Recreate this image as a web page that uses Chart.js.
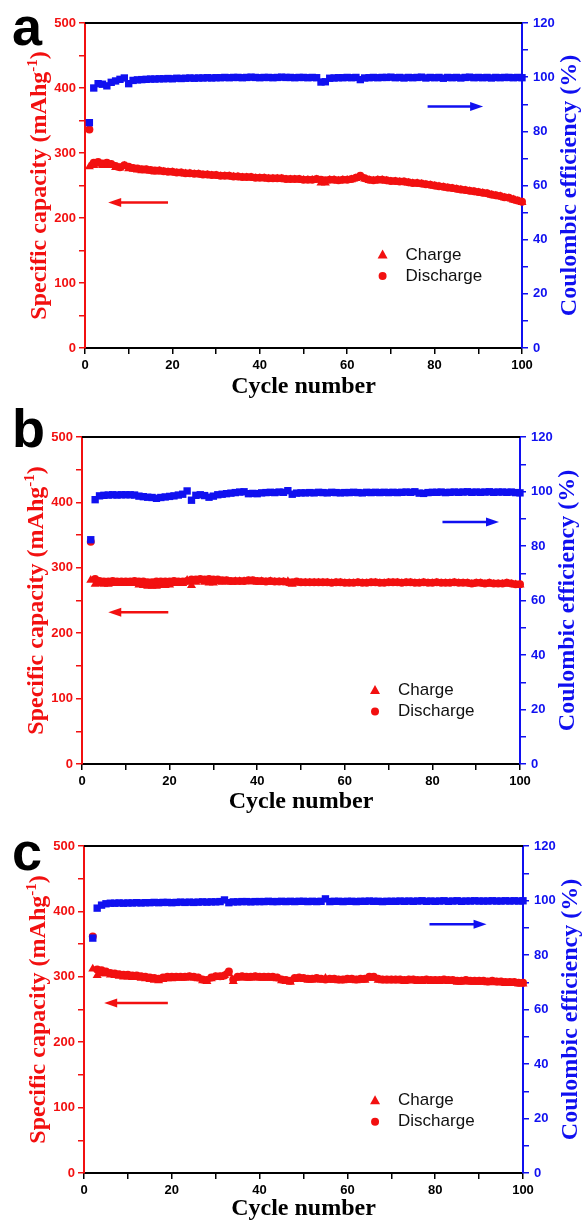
<!DOCTYPE html>
<html>
<head>
<meta charset="utf-8">
<script src="https://cdn.jsdelivr.net/npm/chart.js@4.4.0/dist/chart.umd.min.js"></script>
<style>
  html, body { margin: 0; padding: 0; background: #fff; }
  body { width: 582px; height: 1221px; position: relative; overflow: hidden; }
  .panel { position: absolute; left: 0; width: 582px; }
</style>
</head>
<body>
<div class="panel" style="top:0;height:405px"><canvas id="chartA"></canvas></div>
<div class="panel" style="top:405px;height:410px"><canvas id="chartB"></canvas></div>
<div class="panel" style="top:815px;height:406px"><canvas id="chartC"></canvas></div>
<script>
// cycle numbers start here for each panel, one value per cycle after that
const firstCycleA = 1
const firstCycleB = 2
const firstCycleC = 2

// panel a  (mAh/g and %)
const dischargeA = [336, 285, 286, 284, 285, 283, 280, 278, 281, 279,
  277, 276, 275, 275, 274, 273, 273, 272, 271, 271,
  270, 270, 269, 269, 268, 268, 267, 267, 266, 266,
  265, 265, 265, 264, 264, 263, 263, 263, 262, 262,
  262, 261, 261, 261, 261, 260, 260, 260, 260, 259,
  259, 259, 260, 259, 258, 259, 259, 258, 259, 259,
  260, 262, 265, 261, 259, 258, 259, 259, 258, 257,
  257, 256, 256, 255, 254, 254, 253, 252, 251, 250,
  249, 248, 247, 246, 245, 244, 243, 242, 241, 240,
  239, 238, 236, 235, 234, 232, 231, 229, 227, 225]
const chargeA = [279, 281, 283, 281, 281, 281, 278, 277, 280, 276,
  275, 274, 273, 273, 272, 271, 272, 271, 270, 270,
  269, 269, 268, 268, 267, 267, 266, 266, 265, 265,
  264, 264, 264, 263, 263, 262, 262, 262, 261, 261,
  261, 260, 260, 260, 260, 259, 259, 259, 259, 258,
  258, 258, 259, 254, 254, 258, 258, 257, 258, 258,
  259, 261, 262, 260, 258, 257, 258, 258, 257, 256,
  256, 255, 255, 254, 253, 253, 252, 251, 250, 249,
  248, 247, 246, 245, 244, 243, 242, 241, 240, 239,
  238, 237, 235, 234, 233, 231, 230, 228, 226, 224]
const ceA = [83.2, 96.0, 97.6, 97.4, 96.8, 98.1, 98.6, 99.2, 99.7, 97.6,
  98.8, 99.0, 99.1, 99.2, 99.3, 99.3, 99.4, 99.4, 99.5, 99.4,
  99.6, 99.5, 99.6, 99.7, 99.6, 99.7, 99.7, 99.8, 99.7, 99.8,
  99.8, 99.9, 99.8, 99.9, 99.9, 99.8, 99.9, 100.0, 99.9, 99.8,
  99.9, 99.9, 99.8, 99.9, 100.0, 99.9, 99.9, 99.8, 99.9, 99.9,
  99.8, 99.9, 99.8, 98.2, 98.3, 99.6, 99.7, 99.8, 99.8, 99.9,
  99.8, 99.9, 99.1, 99.7, 99.8, 99.9, 99.8, 99.9, 99.9, 100.0,
  99.8, 99.9, 99.7, 99.9, 99.8, 99.9, 100.0, 99.7, 99.9, 99.8,
  99.9, 99.6, 99.9, 99.8, 99.9, 99.7, 99.9, 100.0, 99.8, 99.9,
  99.8, 99.9, 99.7, 99.9, 99.8, 99.9, 99.9, 99.8, 99.9, 99.8]

// panel b
const dischargeB = [340, 283, 280, 279, 279, 280, 279, 279, 279,
  279, 280, 279, 279, 278, 278, 279, 279, 279, 279,
  280, 279, 279, 280, 282, 282, 283, 282, 283, 282,
  282, 281, 281, 280, 280, 280, 280, 281, 281, 280,
  280, 279, 280, 279, 279, 279, 278, 278, 279, 278,
  278, 278, 278, 278, 278, 278, 277, 278, 278, 277,
  277, 277, 278, 277, 277, 278, 278, 277, 277, 278,
  278, 278, 277, 278, 278, 277, 277, 278, 277, 277,
  278, 277, 277, 277, 278, 277, 277, 277, 276, 277,
  277, 276, 277, 276, 276, 276, 277, 276, 275, 275]
const chargeB = [281, 275, 276, 275, 275, 276, 276, 276, 276,
  276, 276, 274, 273, 272, 272, 272, 273, 273, 274,
  276, 276, 276, 281, 273, 278, 280, 278, 277, 277,
  279, 278, 279, 278, 279, 279, 279, 279, 279, 278,
  279, 278, 279, 278, 278, 278, 279, 275, 277, 277,
  277, 277, 277, 277, 277, 277, 276, 277, 277, 276,
  276, 276, 277, 276, 276, 277, 277, 276, 276, 277,
  277, 277, 276, 277, 277, 276, 276, 277, 276, 276,
  277, 276, 276, 276, 277, 276, 276, 276, 275, 276,
  276, 275, 276, 275, 275, 275, 276, 275, 274, 274]
const ceB = [82.3, 97.0, 98.4, 98.6, 98.7, 98.8, 98.7, 98.8, 98.8,
  98.8, 98.7, 98.3, 98.1, 97.9, 97.8, 97.5, 97.8, 98.0, 98.2,
  98.4, 98.7, 99.0, 100.2, 96.8, 98.6, 98.8, 98.5, 97.9, 98.3,
  98.8, 99.0, 99.2, 99.4, 99.6, 99.8, 99.9, 99.2, 99.3, 99.2,
  99.5, 99.6, 99.7, 99.6, 99.8, 99.7, 100.3, 99.0, 99.4, 99.5,
  99.5, 99.6, 99.5, 99.7, 99.6, 99.5, 99.7, 99.6, 99.5, 99.6,
  99.6, 99.7, 99.6, 99.5, 99.7, 99.6, 99.7, 99.6, 99.7, 99.6,
  99.7, 99.6, 99.7, 99.8, 99.7, 99.9, 99.4, 99.3, 99.6, 99.7,
  99.7, 99.8, 99.6, 99.7, 99.8, 99.7, 99.8, 99.9, 99.7, 99.8,
  99.7, 99.8, 99.9, 99.7, 99.8, 99.8, 99.7, 99.8, 99.6, 99.5]

// panel c
const dischargeC = [361.5, 311, 310, 308, 306, 305, 304, 303, 303,
  302, 302, 301, 300, 299, 298, 297, 299, 300, 300,
  300, 300, 300, 301, 300, 299, 296, 295, 299, 301,
  301, 302, 308, 296, 300, 301, 300, 300, 301, 300,
  300, 300, 300, 299, 296, 295, 294, 298, 299, 298,
  297, 297, 298, 297, 296, 297, 297, 296, 296, 297,
  297, 296, 297, 297, 300, 300, 297, 296, 296, 296,
  296, 296, 295, 296, 296, 295, 295, 296, 295, 295,
  295, 296, 295, 295, 294, 294, 295, 294, 294, 294,
  294, 293, 294, 293, 293, 292, 292, 292, 291, 291]
const chargeC = [312, 302, 305, 305, 303, 302, 301, 300, 300,
  299, 299, 298, 297, 296, 295, 294, 296, 297, 297,
  298, 298, 298, 299, 298, 297, 294, 293, 297, 299,
  299, 302, 305, 293, 298, 299, 298, 298, 299, 298,
  298, 298, 298, 297, 294, 293, 292, 296, 297, 296,
  295, 295, 296, 295, 298, 295, 295, 294, 294, 295,
  295, 294, 295, 295, 298, 298, 295, 294, 294, 294,
  294, 294, 293, 294, 294, 293, 293, 294, 293, 293,
  293, 294, 293, 293, 292, 292, 293, 292, 292, 292,
  292, 291, 292, 291, 291, 290, 290, 290, 289, 289]
const ceC = [86.2, 97.2, 98.3, 98.8, 99.0, 99.0, 99.1, 99.0, 99.1,
  99.1, 99.2, 99.1, 99.2, 99.2, 99.3, 99.2, 99.3, 99.3, 99.2,
  99.3, 99.4, 99.3, 99.4, 99.3, 99.4, 99.5, 99.4, 99.5, 99.5,
  99.6, 100.2, 99.2, 99.5, 99.5, 99.6, 99.6, 99.5, 99.6, 99.6,
  99.6, 99.7, 99.6, 99.6, 99.7, 99.6, 99.7, 99.6, 99.7, 99.7,
  99.6, 99.7, 99.6, 99.7, 100.6, 99.6, 99.7, 99.7, 99.6, 99.7,
  99.7, 99.6, 99.7, 99.7, 99.8, 99.7, 99.7, 99.6, 99.7, 99.7,
  99.7, 99.8, 99.7, 99.8, 99.7, 99.8, 99.9, 99.7, 99.8, 99.7,
  99.8, 99.9, 99.7, 99.8, 99.9, 99.7, 99.8, 99.8, 99.9, 99.8,
  99.8, 99.8, 99.9, 99.8, 99.8, 99.9, 99.8, 99.9, 99.8, 99.9]

// axis ranges and ticks
const xRange = [0, 100]
const capRange = [0, 500]
const ceRange = [0, 120]
const seriesNames = ['Charge', 'Discharge', 'Coulombic efficiency']

const RED = '#f21010'
const BLUE = '#1010f0'
const W = 582
const tickFont = { family: '"Liberation Sans", Arial, sans-serif', size: 13, weight: 'bold' }
const titleFont = '"Liberation Serif", "Times New Roman", serif'

const panels = [
  { id: 'chartA', letter: 'a', first: firstCycleA, charge: chargeA, discharge: dischargeA, ce: ceA,
    h: 405, area: { left: 85, right: 522, top: 23, bottom: 348 }, letterAt: [12, 45], xTitleDy: 45,
    legendAt: [0.681, 0.714], leftTitleX: 46, rightTitleX: 576,
    arrows: [{ axis: 'yL', from: 19, to: 5.3, y: 224 }, { axis: 'yR', from: 78.4, to: 91.1, y: 89.2 }] },
  { id: 'chartB', letter: 'b', first: firstCycleB, charge: chargeB, discharge: dischargeB, ce: ceB,
    h: 410, area: { left: 82, right: 520, top: 32, bottom: 359 }, letterAt: [12, 42], xTitleDy: 44,
    legendAt: [0.669, 0.775], leftTitleX: 43, rightTitleX: 574,
    arrows: [{ axis: 'yL', from: 19.7, to: 6, y: 232 }, { axis: 'yR', from: 82.3, to: 95.2, y: 88.8 }] },
  { id: 'chartC', letter: 'c', first: firstCycleC, charge: chargeC, discharge: dischargeC, ce: ceC,
    h: 406, area: { left: 84, right: 523, top: 31, bottom: 358 }, letterAt: [12, 55], xTitleDy: 42,
    legendAt: [0.663, 0.779], leftTitleX: 45, rightTitleX: 577,
    arrows: [{ axis: 'yL', from: 19.1, to: 4.6, y: 260 }, { axis: 'yR', from: 78.7, to: 91.7, y: 91.3 }] }
]

function drawArrow(ctx, x0, x1, y, color) {
  const dir = Math.sign(x1 - x0)
  ctx.strokeStyle = color
  ctx.fillStyle = color
  ctx.lineWidth = 2.5
  ctx.beginPath()
  ctx.moveTo(x0, y)
  ctx.lineTo(x1 - dir * 10, y)
  ctx.stroke()
  ctx.beginPath()
  ctx.moveTo(x1, y)
  ctx.lineTo(x1 - dir * 13, y - 4.5)
  ctx.lineTo(x1 - dir * 13, y + 4.5)
  ctx.closePath()
  ctx.fill()
}

const decor = {
  id: 'decor',
  afterDraw(chart, args, p) {
    const { ctx, chartArea: a, scales } = chart
    ctx.save()

    // black frame line on top
    ctx.strokeStyle = '#000'
    ctx.lineWidth = 2
    ctx.beginPath()
    ctx.moveTo(a.left, a.top)
    ctx.lineTo(a.right, a.top)
    ctx.stroke()

    // panel letter
    ctx.fillStyle = '#000'
    ctx.font = 'bold 54px "Liberation Sans", Arial, sans-serif'
    ctx.textAlign = 'left'
    ctx.textBaseline = 'alphabetic'
    ctx.fillText(p.letter, p.letterAt[0], p.letterAt[1])

    // x title
    ctx.font = 'bold 24px ' + titleFont
    ctx.textAlign = 'center'
    ctx.fillText('Cycle number', (a.left + a.right) / 2, a.bottom + p.xTitleDy)

    // left title with superscript
    const midY = (a.top + a.bottom) / 2
    const big = 'bold 24px ' + titleFont
    const small = 'bold 15px ' + titleFont
    const parts = [['Specific capacity (mAhg', big, 0], ['-1', small, -9], [')', big, 0]]
    let total = 0
    parts.forEach(pt => { ctx.font = pt[1]; total += ctx.measureText(pt[0]).width })
    ctx.save()
    ctx.translate(p.leftTitleX, midY)
    ctx.rotate(-Math.PI / 2)
    ctx.fillStyle = RED
    ctx.textAlign = 'left'
    let cx = -total / 2
    parts.forEach(pt => {
      ctx.font = pt[1]
      ctx.fillText(pt[0], cx, pt[2])
      cx += ctx.measureText(pt[0]).width
    })
    ctx.restore()

    // right title
    ctx.save()
    ctx.translate(p.rightTitleX, midY)
    ctx.rotate(-Math.PI / 2)
    ctx.fillStyle = BLUE
    ctx.font = big
    ctx.textAlign = 'center'
    ctx.fillText('Coulombic efficiency (%)', 0, 0)
    ctx.restore()

    // legend
    const lx = a.left + p.legendAt[0] * (a.right - a.left)
    const ly = a.top + p.legendAt[1] * (a.bottom - a.top)
    ctx.fillStyle = RED
    ctx.beginPath()
    ctx.moveTo(lx, ly - 5.5)
    ctx.lineTo(lx + 5, ly + 3.5)
    ctx.lineTo(lx - 5, ly + 3.5)
    ctx.closePath()
    ctx.fill()
    ctx.beginPath()
    ctx.arc(lx, ly + 21, 4, 0, Math.PI * 2)
    ctx.fill()
    ctx.fillStyle = '#111'
    ctx.font = '17px "Liberation Sans", Arial, sans-serif'
    ctx.textAlign = 'left'
    ctx.textBaseline = 'middle'
    ctx.fillText(seriesNames[0], lx + 23, ly)
    ctx.fillText(seriesNames[1], lx + 23, ly + 21)

    // arrows, placed in data units
    p.arrows.forEach(ar => {
      const ys = scales[ar.axis]
      drawArrow(ctx, scales.x.getPixelForValue(ar.from), scales.x.getPixelForValue(ar.to),
        ys.getPixelForValue(ar.y), ar.axis === 'yL' ? RED : BLUE)
    })
    ctx.restore()
  }
}

function points(first, values) {
  return values.map((v, i) => ({ x: first + i, y: v }))
}

panels.forEach(p => {
  new Chart(document.getElementById(p.id), {
    type: 'scatter',
    data: {
      datasets: [
        { label: seriesNames[2], data: points(p.first, p.ce), yAxisID: 'yR', pointStyle: 'rect',
          pointRadius: 5.2, borderWidth: 0, backgroundColor: BLUE, order: 0, clip: false },
        { label: seriesNames[1], data: points(p.first, p.discharge), yAxisID: 'yL', pointStyle: 'circle',
          pointRadius: 4, borderWidth: 0, backgroundColor: RED, order: 1, clip: false },
        { label: seriesNames[0], data: points(p.first, p.charge), yAxisID: 'yL', pointStyle: 'triangle',
          pointRadius: 5.2, borderWidth: 0, backgroundColor: RED, order: 2, clip: false }
      ]
    },
    options: {
      responsive: true,
      maintainAspectRatio: false,
      animation: false,
      events: [],
      layout: { padding: { top: p.area.top, left: 0, right: 0, bottom: 0 } },
      plugins: { legend: { display: false }, tooltip: { enabled: false }, decor: p },
      scales: {
        x: {
          type: 'linear', position: 'bottom', min: xRange[0], max: xRange[1],
          ticks: { stepSize: 10, autoSkip: false, maxRotation: 0, color: '#000', font: tickFont, padding: 4,
            callback: v => (v % 20 === 0 ? v : '') },
          grid: { drawOnChartArea: false, tickLength: 6, color: '#000', lineWidth: 1.5 },
          border: { color: '#000', width: 2 },
          afterFit: s => { s.height = p.h - p.area.bottom }
        },
        yL: {
          position: 'left', min: capRange[0], max: capRange[1],
          ticks: { stepSize: 50, autoSkip: false, color: RED, font: tickFont, padding: 3,
            callback: v => (v % 100 === 0 ? v : '') },
          grid: { drawOnChartArea: false, tickLength: 6, color: RED, lineWidth: 1.5 },
          border: { color: RED, width: 2 },
          afterFit: s => { s.width = p.area.left }
        },
        yR: {
          position: 'right', min: ceRange[0], max: ceRange[1],
          ticks: { stepSize: 10, autoSkip: false, color: BLUE, font: tickFont, padding: 5,
            callback: v => (v % 20 === 0 ? v : '') },
          grid: { drawOnChartArea: false, tickLength: 6, color: BLUE, lineWidth: 1.5 },
          border: { color: BLUE, width: 2 },
          afterFit: s => { s.width = W - p.area.right }
        }
      }
    },
    plugins: [decor]
  })
})
</script>
</body>
</html>
